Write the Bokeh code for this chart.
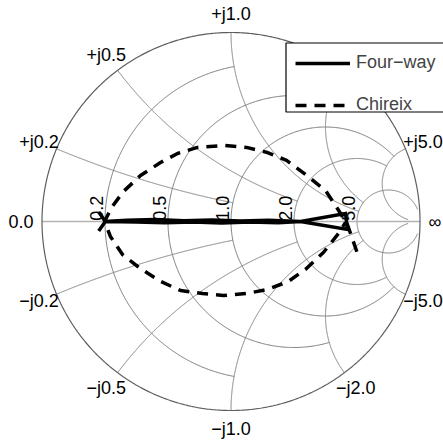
import numpy as np
from bokeh.plotting import figure
from bokeh.models import Range1d, Legend, LegendItem, BoxAnnotation
from bokeh.embed import file_html
from bokeh.resources import INLINE
from bokeh.core.properties import value

# ---- chart data -------------------------------------------------------------
# Smith chart grid: circle values and the value of the crossing line where each stops
grid_values = [0.2, 0.5, 1.0, 2.0, 5.0]
grid_stops = [1.0, 2.0, 5.0, 5.0, 30.0]

res_labels = ["0.2", "0.5", "1.0", "2.0", "5.0"]
pos_react_labels = ["+j0.2", "+j0.5", "+j1.0", "+j2.0", "+j5.0"]
neg_react_labels = ["\u2212j0.2", "\u2212j0.5", "\u2212j1.0", "\u2212j2.0", "\u2212j5.0"]

# Four-way combiner load trajectory (reflection coefficient, real / imaginary)
four_re = [-0.700, -0.665, -0.700, -0.665, -0.550, -0.400, -0.250, -0.100, 0.050,
           0.200, 0.300, 0.368, 0.606, 0.616, 0.368, 0.250, 0.100, -0.050,
           -0.200, -0.350, -0.500, -0.665]
four_im = [0.050, 0.000, -0.050, 0.000, 0.006, 0.010, 0.004, 0.008, 0.002,
           0.007, 0.003, 0.000, 0.042, -0.042, 0.000, -0.006, -0.002, -0.008,
           -0.003, -0.007, -0.002, 0.000]

# Chireix combiner load trajectory (reflection coefficient, real / imaginary)
chireix_re = [0.666, 0.616, 0.563, 0.500, 0.394, 0.294, 0.193, 0.082, -0.034,
              -0.177, -0.283, -0.373, -0.479, -0.569, -0.632, -0.669, -0.638,
              -0.574, -0.479, -0.373, -0.267, -0.151, -0.040, 0.082, 0.193,
              0.304, 0.399, 0.489, 0.569, 0.606]
chireix_im = [-0.160, -0.016, 0.069, 0.164, 0.249, 0.323, 0.365, 0.392, 0.402,
              0.392, 0.360, 0.312, 0.243, 0.159, 0.074, 0.000, -0.079,
              -0.175, -0.249, -0.317, -0.365, -0.381, -0.392, -0.381, -0.360,
              -0.317, -0.249, -0.164, -0.063, -0.005]

series_names = ["Four\u2212way", "Chireix"]

# ---- layout -----------------------------------------------------------------
W, H = 443, 442
CX, CY, RPX = 230.5, 221.0, 189.0   # chart centre and radius in pixels
FONT = "Liberation Sans"
GRID = "#7a7a7a"


def to_gamma(r, x):
    z = np.asarray(r, dtype=float) + 1j * np.asarray(x, dtype=float)
    return (z - 1) / (z + 1)


def px(xp, yp):
    """screen pixel -> chart coordinate"""
    return (xp - CX) / RPX, (CY - yp) / RPX


p = figure(width=W, height=H, output_backend="svg", toolbar_location=None,
           x_range=Range1d(-CX / RPX, (W - CX) / RPX),
           y_range=Range1d(-(H - CY) / RPX, CY / RPX),
           x_axis_location=None, y_axis_location=None, min_border=0)
p.xgrid.visible = False
p.ygrid.visible = False
p.outline_line_color = None
p.background_fill_color = "white"
p.border_fill_color = "white"

# constant-resistance arcs
gx, gy = [], []
for r, xs in zip(grid_values, grid_stops):
    c, rho = r / (1 + r), 1 / (1 + r)
    phi_t = np.angle(to_gamma(r, xs) - c)
    phi = np.linspace(phi_t, 2 * np.pi - phi_t, 500)
    pts = c + rho * np.exp(1j * phi)
    gx.append(pts.real)
    gy.append(pts.imag)

# constant-reactance arcs
for x, rs in zip(grid_values, grid_stops):
    u = np.linspace(0, rs / (1 + rs), 800)
    rr = u / (1 - u)
    for sgn in (1, -1):
        pts = to_gamma(rr, sgn * x)
        gx.append(pts.real)
        gy.append(pts.imag)

p.multi_line(gx, gy, line_color=GRID, line_width=1)

# real axis and outer boundary
p.line([-1, 1], [0, 0], line_color="#b3b3b3", line_width=1.5)
t = np.linspace(0, 2 * np.pi, 720)
p.line(np.cos(t), np.sin(t), line_color="#5e5e5e", line_width=1.2)

# data traces
r_four = p.line(four_re, four_im, line_color="black", line_width=3.5,
                line_join="miter")
r_chx = p.line(chireix_re, chireix_im, line_color="black", line_width=3.5,
               line_dash="11 8")

# resistance labels along the real axis
lx = [to_gamma(r, 0).real - 0.012 for r in grid_values]
p.text(lx, [0.004] * len(lx), text=res_labels, angle=np.pi / 2,
       text_font=value(FONT), text_font_size=value("18px"),
       text_align="left", text_baseline="bottom", text_color="black")

# reactance labels around the rim
kx, ky, kt = [], [], []
for x, lp, ln in zip(grid_values, pos_react_labels, neg_react_labels):
    g = 1.10 * to_gamma(0, x)
    kx += [g.real, g.real]
    ky += [g.imag, -g.imag]
    kt += [lp, ln]
p.text(kx, ky, text=kt, text_font=value(FONT), text_font_size=value("18px"),
       text_align="center", text_baseline="middle", text_color="black")

p.text([-1.045], [0], text=["0.0"], text_font=value(FONT),
       text_font_size=value("18px"), text_align="right",
       text_baseline="middle", text_color="black")
p.text([1.045], [0], text=["\u221e"], text_font=value(FONT),
       text_font_size=value("18px"), text_align="left",
       text_baseline="middle", text_color="black")

# legend frame
bl, bt = px(285.5, 42.5)
br, bb = px(470, 111.5)
p.add_layout(BoxAnnotation(left=bl, right=br, top=bt, bottom=bb,
                           fill_color="white", fill_alpha=1,
                           line_color="black", line_alpha=1, line_width=1.2))

legend = Legend(items=[LegendItem(label=series_names[0], renderers=[r_four]),
                       LegendItem(label=series_names[1], renderers=[r_chx])],
                location=(295, H - 115.7), padding=9, spacing=20,
                glyph_width=55, glyph_height=22, label_height=22,
                label_standoff=6, margin=0,
                label_text_font=FONT, label_text_font_size="18px",
                border_line_color=None, background_fill_alpha=0)
p.add_layout(legend, "center")

open("out.html", "w").write(file_html(p, INLINE))
